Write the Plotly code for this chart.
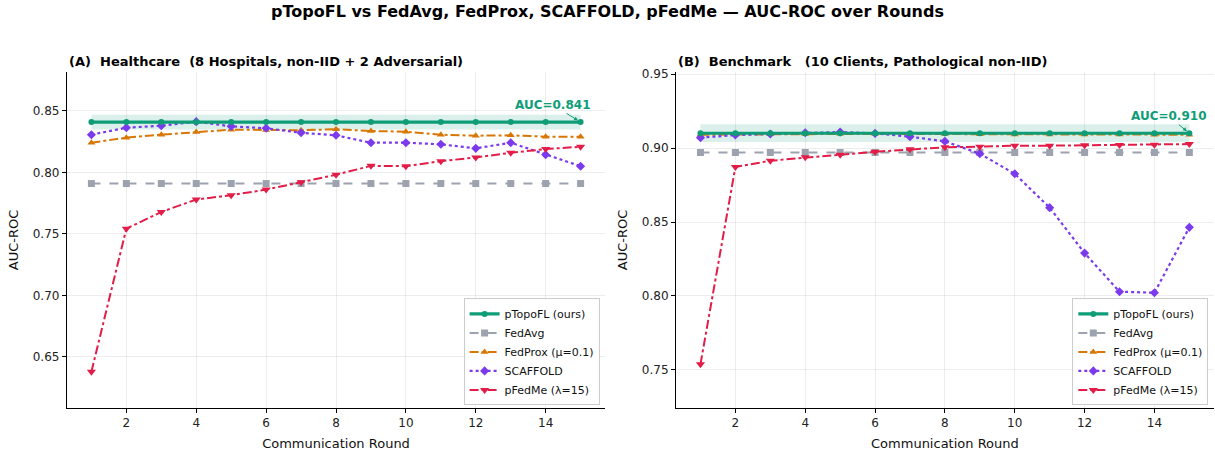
import plotly.graph_objects as go

rounds = list(range(1, 16))

# Panel A: Healthcare
a_ptopofl = [0.841] * 15
a_band = 0.006
a_fedavg = [0.791] * 15
a_fedprox = [0.8242, 0.8283, 0.8307, 0.8329, 0.8348, 0.8346, 0.8343, 0.8351, 0.8337, 0.8332, 0.8307, 0.8299, 0.8302, 0.8291, 0.8291]
a_scaffold = [0.8307, 0.8364, 0.838, 0.8413, 0.8375, 0.8359, 0.8323, 0.8302, 0.8242, 0.8242, 0.8229, 0.8196, 0.8242, 0.8144, 0.8051]
a_pfedme = [0.638, 0.7543, 0.7679, 0.778, 0.7815, 0.7861, 0.7921, 0.7981, 0.8054, 0.8051, 0.8092, 0.8122, 0.816, 0.819, 0.8209]

# Panel B: Benchmark
b_ptopofl = [0.910] * 15
b_band = 0.006
b_fedavg = [0.897] * 15
b_fedprox = [0.909, 0.9092, 0.9095, 0.9095, 0.9097, 0.9096, 0.9095, 0.9094, 0.9093, 0.9092, 0.9092, 0.9091, 0.9091, 0.909, 0.909]
b_scaffold = [0.907, 0.9088, 0.9095, 0.9103, 0.9108, 0.9099, 0.9077, 0.9045, 0.8962, 0.8826, 0.8597, 0.829, 0.8029, 0.8022, 0.8464]
b_pfedme = [0.7539, 0.8872, 0.8914, 0.8937, 0.8955, 0.8975, 0.8991, 0.9005, 0.9009, 0.9016, 0.9016, 0.9018, 0.902, 0.9023, 0.9027]

names = ["pTopoFL (ours)", "FedAvg", "FedProx (μ=0.1)", "SCAFFOLD", "pFedMe (λ=15)"]
colors = ["#0F9D78", "#9CA3AF", "#D97706", "#7C3AED", "#E11D48"]
dashes = ["solid", "dash", "dashdot", "dot", "dashdot"]
symbols = ["circle", "square", "triangle-up", "diamond", "triangle-down"]
widths = [3.2, 2, 2, 2.2, 2]
msizes = [6, 7, 7, 7, 8]

FONT = "DejaVu Sans"
fig = go.Figure()

panels = [
    ("x", "y", "legend", a_ptopofl, a_band, [a_ptopofl, a_fedavg, a_fedprox, a_scaffold, a_pfedme]),
    ("x2", "y2", "legend2", b_ptopofl, b_band, [b_ptopofl, b_fedavg, b_fedprox, b_scaffold, b_pfedme]),
]

for xa, ya, lg, main, band, series in panels:
    fig.add_trace(go.Scatter(x=rounds, y=[v + band for v in main], xaxis=xa, yaxis=ya, legend=lg,
                             mode="lines", line=dict(width=0), showlegend=False, hoverinfo="skip"))
    fig.add_trace(go.Scatter(x=rounds, y=[v - band for v in main], xaxis=xa, yaxis=ya, legend=lg,
                             mode="lines", line=dict(width=0), fill="tonexty",
                             fillcolor="rgba(15,157,120,0.15)", showlegend=False, hoverinfo="skip"))
    order = [1, 2, 3, 4, 0]
    for i in order:
        fig.add_trace(go.Scatter(
            x=rounds, y=series[i], xaxis=xa, yaxis=ya, name=names[i], legend=lg,
            legendrank=i + 1,
            mode="lines+markers",
            line=dict(color=colors[i], width=widths[i], dash=dashes[i]),
            marker=dict(symbol=symbols[i], size=msizes[i], color=colors[i]),
        ))

axis_common = dict(
    showgrid=True, gridcolor="rgba(0,0,0,0.07)", gridwidth=1,
    showline=True, linecolor="black", linewidth=1.2,
    ticks="outside", ticklen=4, tickcolor="black",
    tickfont=dict(family=FONT, size=12, color="#222"),
    zeroline=False, mirror=False, automargin=False,
)

leg_common = dict(xanchor="right", yanchor="bottom", traceorder="normal",
                  bgcolor="rgba(255,255,255,0.9)", bordercolor="#ccc", borderwidth=1,
                  font=dict(family=FONT, size=11), tracegroupgap=0, itemwidth=30)

fig.update_layout(
    width=1215, height=455,
    margin=dict(l=0, r=0, t=0, b=0, autoexpand=False),
    paper_bgcolor="white", plot_bgcolor="white",
    font=dict(family=FONT, color="#111"),
    title=dict(text="<b>pTopoFL vs FedAvg, FedProx, SCAFFOLD, pFedMe — AUC-ROC over Rounds</b>",
               x=0.5, xanchor="center", y=0.975, yanchor="middle",
               font=dict(family=FONT, size=16, color="black")),
    xaxis=dict(domain=[0.0551, 0.498], range=[0.3, 15.7], tickvals=[2, 4, 6, 8, 10, 12, 14],
               title=dict(text="Communication Round", font=dict(family=FONT, size=13), standoff=9),
               anchor="y", **axis_common),
    yaxis=dict(domain=[0.1033, 0.8418], range=[0.6085, 0.8817], tickvals=[0.65, 0.70, 0.75, 0.80, 0.85],
               tickformat=".2f",
               title=dict(text="AUC-ROC", font=dict(family=FONT, size=13), standoff=11),
               anchor="x", **axis_common),
    xaxis2=dict(domain=[0.5564, 0.999], range=[0.3, 15.7], tickvals=[2, 4, 6, 8, 10, 12, 14],
                title=dict(text="Communication Round", font=dict(family=FONT, size=13), standoff=9),
                anchor="y2", **axis_common),
    yaxis2=dict(domain=[0.1033, 0.8418], range=[0.7243, 0.9514], tickvals=[0.75, 0.80, 0.85, 0.90, 0.95],
                tickformat=".2f",
                title=dict(text="AUC-ROC", font=dict(family=FONT, size=13), standoff=11),
                anchor="x2", **axis_common),
    legend=dict(x=0.4935, y=0.109, **leg_common),
    legend2=dict(x=0.9945, y=0.109, **leg_common),
    annotations=[
        dict(text="<b>(A)  Healthcare  (8 Hospitals, non-IID + 2 Adversarial)</b>", xref="paper", yref="paper",
             x=0.0551, y=0.865, xanchor="left", yanchor="middle", showarrow=False,
             font=dict(family=FONT, size=13, color="black")),
        dict(text="<b>(B)  Benchmark   (10 Clients, Pathological non-IID)</b>", xref="paper", yref="paper",
             x=0.5564, y=0.865, xanchor="left", yanchor="middle", showarrow=False,
             font=dict(family=FONT, size=13, color="black")),
        dict(text="<b>AUC=0.841</b>", xref="x", yref="y", x=15, y=0.841, ax=14.2, ay=0.855,
             axref="x", ayref="y", showarrow=True, arrowhead=2, arrowsize=0.8, arrowwidth=1,
             arrowcolor="#0F9D78", standoff=3, font=dict(family=FONT, size=12, color="#0F9D78")),
        dict(text="<b>AUC=0.910</b>", xref="x2", yref="y2", x=15, y=0.910, ax=14.4, ay=0.9216,
             axref="x2", ayref="y2", showarrow=True, arrowhead=2, arrowsize=0.8, arrowwidth=1,
             arrowcolor="#0F9D78", standoff=3, font=dict(family=FONT, size=12, color="#0F9D78")),
    ],
)

fig.write_html("out.html", config={"displayModeBar": False},
               post_script="document.body.style.margin='0';document.body.style.overflow='hidden';")
